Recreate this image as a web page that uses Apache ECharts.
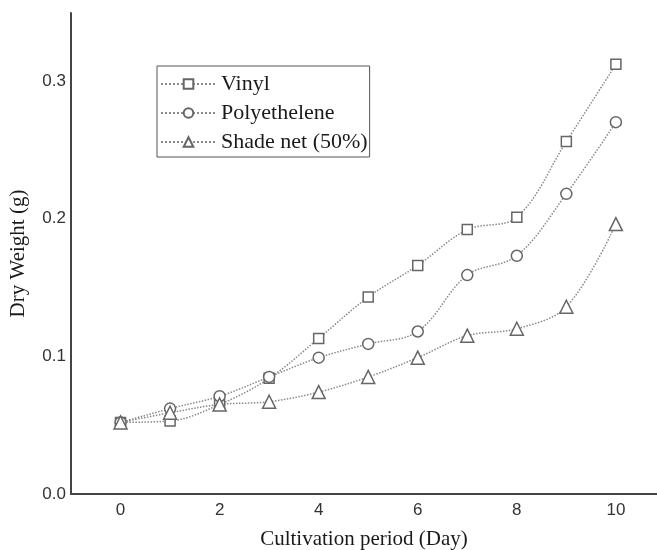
<!DOCTYPE html>
<html>
<head>
<meta charset="utf-8">
<script src="https://cdn.jsdelivr.net/npm/echarts@6/dist/echarts.min.js"></script>
<style>
html,body{margin:0;padding:0;background:#fff;}
#chart{width:657px;height:550px;}
</style>
</head>
<body>
<div id="chart"></div>
<script>
const days = [0, 1, 2, 3, 4, 5, 6, 7, 8, 9, 10];
const vinyl = [0.052, 0.053, 0.065, 0.084, 0.113, 0.143, 0.166, 0.192, 0.201, 0.256, 0.312];
const polyethelene = [0.052, 0.062, 0.071, 0.085, 0.099, 0.109, 0.118, 0.159, 0.173, 0.218, 0.270];
const shadeNet = [0.052, 0.059, 0.065, 0.067, 0.074, 0.085, 0.099, 0.115, 0.120, 0.136, 0.196];
const xTicks = [0, 2, 4, 6, 8, 10];
const yTicks = [0, 0.1, 0.2, 0.3];
const seriesNames = ['Vinyl', 'Polyethelene', 'Shade net (50%)'];

const chart = echarts.init(document.getElementById('chart'));
function mk(name, vals, symbol, size) {
  return {
    name: name,
    type: 'line',
    data: days.map((d, i) => [d, vals[i]]),
    smooth: 0.35,
    symbol: symbol,
    symbolSize: size,
    showAllSymbol: true,
    lineStyle: { color: '#8a8a8a', width: 1.5, type: 'dotted' },
    itemStyle: { color: '#ffffff', borderColor: '#666666', borderWidth: 1.5 },
    emphasis: { disabled: true }
  };
}
chart.setOption({
  animation: false,
  backgroundColor: '#ffffff',
  grid: { left: 71, top: 13, right: 0, bottom: 56, containLabel: false, outerBoundsMode: 'none' },
  legend: {
    orient: 'vertical',
    left: 157, top: 66,
    data: seriesNames,
    backgroundColor: '#ffffff',
    borderColor: '#555555', borderWidth: 1,
    padding: [7, 2, 4, 3],
    itemWidth: 55, itemHeight: 12,
    itemGap: 7,
    textStyle: { fontFamily: 'Liberation Serif', fontSize: 22, color: '#1a1a1a', lineHeight: 22 }
  },
  xAxis: {
    type: 'value', min: -1, max: 10.83,
    name: 'Cultivation period (Day)', nameLocation: 'middle', nameGap: 35,
    nameTextStyle: { fontFamily: 'Liberation Serif', fontSize: 21, color: '#1a1a1a' },
    axisLine: { onZero: false, lineStyle: { color: '#444', width: 2 } },
    axisTick: { show: false },
    splitLine: { show: false },
    axisLabel: { customValues: xTicks, fontFamily: 'Liberation Sans', fontSize: 17, color: '#333', margin: 8 }
  },
  yAxis: {
    type: 'value', min: 0, max: 0.3493,
    name: 'Dry Weight (g)', nameLocation: 'middle', nameGap: 42,
    nameTextStyle: { fontFamily: 'Liberation Serif', fontSize: 21, color: '#1a1a1a' },
    axisLine: { show: true, onZero: false, lineStyle: { color: '#444', width: 2 } },
    axisTick: { show: false },
    splitLine: { show: false },
    axisLabel: { customValues: yTicks, formatter: v => v.toFixed(1), fontFamily: 'Liberation Sans', fontSize: 17, color: '#333', margin: 5 }
  },
  series: [
    mk(seriesNames[0], vinyl, 'rect', 10),
    mk(seriesNames[1], polyethelene, 'circle', 11),
    mk(seriesNames[2], shadeNet, 'triangle', 13)
  ]
});
</script>
</body>
</html>
